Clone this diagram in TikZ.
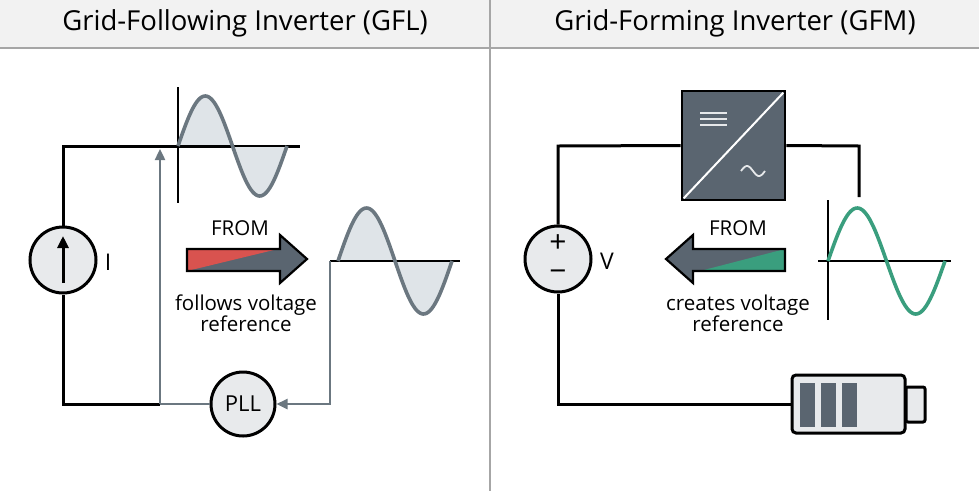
\documentclass[tikz,border=0pt]{standalone}
\usepackage{fontspec}
\setmainfont{Open Sans}
\usetikzlibrary{arrows.meta,calc}
\definecolor{wgray}{HTML}{6B7780}
\definecolor{wfill}{HTML}{DFE4E8}
\definecolor{dgray}{HTML}{5A6570}
\definecolor{ared}{HTML}{D9534F}
\definecolor{agreen}{HTML}{3A9E7E}
\definecolor{hdr}{HTML}{F2F2F2}
\definecolor{circfill}{HTML}{E8EAEC}
\begin{document}
\begin{tikzpicture}[x=1pt,y=-1pt,
  wire/.style={line width=3pt,black},
  sig/.style={line width=2.4pt,wgray},
  wave/.style={line width=3.6pt,wgray,line join=round},
  src/.style={circle,draw=black,line width=3pt,fill=circfill,minimum size=66pt,inner sep=0pt},
  lbl/.style={font=\fontsize{20.5}{24}\selectfont,align=center},
  ttl/.style={font=\fontsize{27.5}{32}\selectfont}]
\useasboundingbox (0,0) rectangle (979,491);
\fill[hdr] (0,0) rectangle (979,48);
\draw[gray!70,line width=1.2pt] (0,48) -- (979,48);
\draw[gray!70,line width=1.2pt] (490,0) -- (490,491);
\node[ttl] (t1) at (245,23) {Grid-Following Inverter (GFL)};
\node[ttl] (t2) at (735,23) {Grid-Forming Inverter (GFM)};

% ---------- LEFT ----------
\coordinate (tl) at (63,146);
\coordinate (tr) at (300,146);
\coordinate (bl) at (63,404);
\coordinate (bm) at (160,404);
\node[src] (I) at (63,260) {};
\draw[line width=3pt,-{Triangle[length=12pt,width=11pt]}] (63,283) -- (63,236);
\node[lbl,font=\fontsize{23}{26}\selectfont] (Il) at (108,262) {I};
\node[circle,draw=black,line width=3pt,fill=circfill,minimum size=64pt,inner sep=0pt,font=\fontsize{22}{26}\selectfont] (pll) at (243,404) {PLL};
\draw[wire] (I.north) -- (tl) -- (tr);
\draw[wire] (I.south) -- (bl) -- (bm);
\draw[sig] (bm) -- (pll.west);
\draw[sig,-{Triangle[length=11pt,width=10pt]}] (bm) -- (160,149);
% top sine
\fill[wfill] plot[domain=0:360,samples=80] ({178+\x/360*109},{146-50*sin(\x)}) -- cycle;
\draw[line width=1.8pt] (178,87) -- (178,203);
\draw[line width=1.8pt] (178,146) -- (tr);
\draw[wave] plot[domain=0:360,samples=80] ({178+\x/360*109},{146-50*sin(\x)});
% right sine
\coordinate (ra) at (330,261);
\fill[wfill] plot[domain=0:360,samples=80] ({338+\x/360*114},{261-53*sin(\x)}) -- cycle;
\draw[line width=1.8pt] (ra) -- (460,261);
\draw[wave] plot[domain=0:360,samples=80] ({338+\x/360*114},{261-53*sin(\x)});
\draw[sig,-{Triangle[length=11pt,width=10pt]}] (ra) -- (330,404) -- (pll.east);
% arrow right
\fill[dgray] (187,249) -- (280,249) -- (280,235) -- (307,259) -- (280,283) -- (280,271) -- (187,271) -- cycle;
\fill[ared] (187,249) -- (278,249) -- (187,271) -- cycle;
\draw[black,line width=2.2pt,line join=miter] (187,249) -- (280,249) -- (280,235) -- (307,259) -- (280,283) -- (280,271) -- (187,271) -- cycle;
\node[lbl] (f1) at (240,228) {FROM};
\node[lbl] (d1) at (246,313) {follows voltage\\[-3pt]reference};

% ---------- RIGHT ----------
\node[src] (V) at (558,259) {};
\node[font=\fontsize{30}{30}\selectfont] (plus) at (558,244) {+};
\node[font=\fontsize{30}{30}\selectfont] (minus) at (558,276) {\textminus};
\node[lbl,font=\fontsize{23}{26}\selectfont] (Vl) at (607,261) {V};
\node[draw=black,line width=2.6pt,fill=dgray,minimum width=103pt,minimum height=109pt,inner sep=0pt] (conv) at (733.5,145.5) {};
\draw[white,line width=2pt] ($(conv.south west)+(3,-3)$) -- ($(conv.north east)+(-3,3)$);
\foreach \yy in {113,119,125} \draw[white!85!dgray,line width=1.6pt] (700,\yy) -- (727,\yy);
\draw[white!85!dgray,line width=1.8pt] plot[domain=0:360,samples=40] ({741+\x/360*24},{171-5*sin(\x)});
\coordinate (cr) at (859,146);
\coordinate (cd) at (859,197);
\coordinate (vl) at (558,146);
\coordinate (vb) at (558,404);
\draw[wire] (V.north) -- (vl) -- (conv.west);
\draw[wire] (conv.east) -- (cr) -- (cd);
% green sine
\draw[line width=1.8pt] (828,200) -- (828,320);
\draw[line width=1.8pt] (818,261) -- (951,261);
\draw[line width=3.6pt,agreen] plot[domain=0:360,samples=80] ({828+\x/360*117},{261-53*sin(\x)});
% battery
\node[draw=black,line width=3pt,fill=circfill,rounded corners=4pt,minimum width=113pt,minimum height=58pt,inner sep=0pt] (bat) at (848.5,404) {};
\draw[black,line width=3pt,fill=circfill,rounded corners=2pt] (906,387) rectangle (925,422);
\foreach \cx in {800,821,842} \fill[dgray] (\cx,383) rectangle (\cx+15,427);
\draw[wire] (V.south) -- (vb) -- (bat.west);
% arrow left
\fill[dgray] (785,249) -- (693,249) -- (693,235) -- (666,259) -- (693,283) -- (693,271) -- (785,271) -- cycle;
\fill[agreen] (785,249) -- (785,271) -- (700,271) -- cycle;
\draw[black,line width=2.2pt] (785,249) -- (693,249) -- (693,235) -- (666,259) -- (693,283) -- (693,271) -- (785,271) -- cycle;
\node[lbl] (f2) at (738,228) {FROM};
\node[lbl] (d2) at (738,313) {creates voltage\\[-3pt]reference};
\end{tikzpicture}
\end{document}
